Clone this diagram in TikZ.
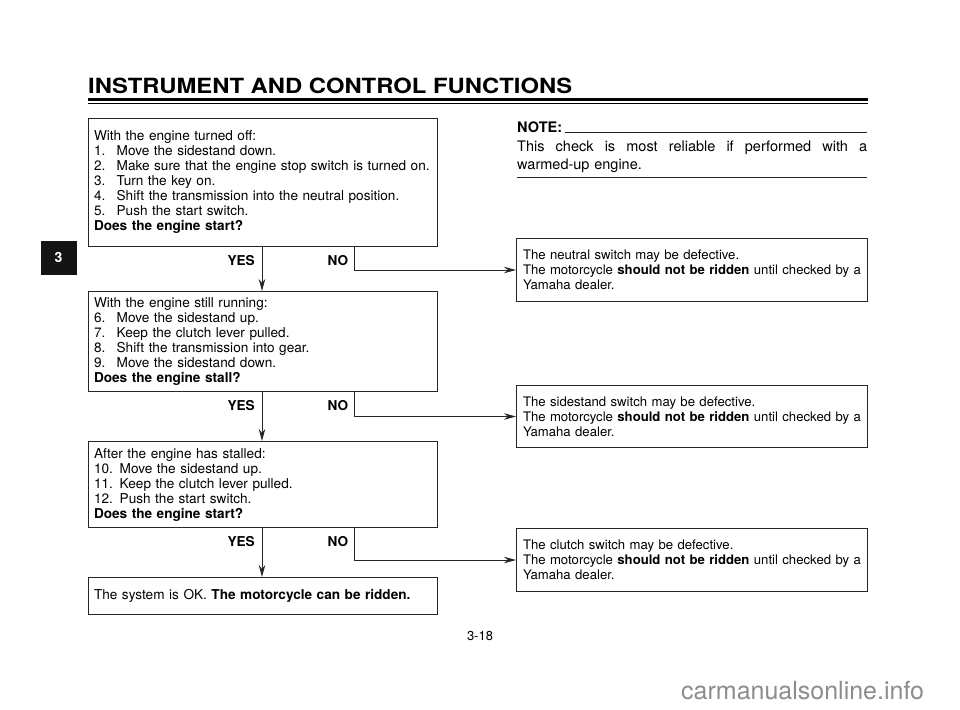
\documentclass[tikz,border=0pt]{standalone}
\usepackage{fontspec}
\setmainfont{TeX Gyre Heros}
\usetikzlibrary{arrows.meta}
\begin{document}
\begin{tikzpicture}[x=1pt,y=-1pt,
  box/.style={draw=black!85, line width=1pt, rectangle, inner xsep=5.5pt, inner ysep=0pt,
    align=left, anchor=north west, font=\fontsize{13.6}{15}\selectfont},
  lbox/.style={box, minimum width=349pt, text width=338pt},
  rbox/.style={box, minimum width=351pt, text width=338pt, inner xsep=6.5pt,
    font=\fontsize{13.15}{15}\selectfont},
  arr/.style={draw=black!85, line width=1pt, -{Stealth[length=12pt,width=6.5pt]}},
  lab/.style={font=\fontsize{13.6}{15}\selectfont\bfseries, inner sep=0pt}]
\useasboundingbox (0,0) rectangle (960,709);
% header
\node[anchor=south west, inner sep=0pt] (title) at (88,93.5)
  {\resizebox{484pt}{15.5pt}{\bfseries INSTRUMENT AND CONTROL FUNCTIONS}};
\draw[line width=2.5pt] (88,99.5) -- (868,99.5);
\draw[line width=1pt] (88,103) -- (868,103);
% tab
\node[rectangle, fill=black!92, draw=black!92, minimum width=35pt, minimum height=33pt, inner sep=0pt,
  font=\fontsize{14}{14}\selectfont\bfseries] (tab) at (58.5,257.5) {\textcolor{white}{3}};
% note
\node[anchor=base west, inner sep=0pt, font=\fontsize{14.5}{18}\selectfont\bfseries] (note) at (517,132) {NOTE:};
\draw[line width=0.9pt, black!85] ([xshift=3pt]note.base east) -- (867,132);
\node[anchor=north west, inner sep=0pt, text width=350pt, align=left,
  font=\fontsize{14.5}{18}\selectfont] (notetext) at (517,140.5)
  {\hbox to 350pt{This\hfil\ check\hfil\ is\hfil\ most\hfil\ reliable\hfil\ if\hfil\ performed\hfil\ with\hfil\ a}\\warmed-up engine.};
\draw[line width=0.9pt, black!85] (517,177) -- (867,177);
% left boxes
\node[lbox, minimum height=128pt] (b1) at (88,118) {With the engine turned off:\\
1.~ Move the sidestand down.\\
2.~ Make sure that the engine stop switch is turned on.\\
3.~ Turn the key on.\\
4.~ Shift the transmission into the neutral position.\\
5.~ Push the start switch.\\
\textbf{Does the engine start?}};
\node[lbox, minimum height=100pt] (b2) at (88,291) {With the engine still running:\\
6.~ Move the sidestand up.\\
7.~ Keep the clutch lever pulled.\\
8.~ Shift the transmission into gear.\\
9.~ Move the sidestand down.\\
\textbf{Does the engine stall?}};
\node[lbox, minimum height=86pt] (b3) at (88,441) {After the engine has stalled:\\
10. Move the sidestand up.\\
11. Keep the clutch lever pulled.\\
12. Push the start switch.\\
\textbf{Does the engine start?}};
\node[lbox, minimum height=37pt] (b4) at (88,577) {The system is OK. \textbf{The motorcycle can be ridden.}};
% right boxes
\node[rbox, minimum height=63pt] (r1) at (516,238) {The neutral switch may be defective.\\
\makebox[338pt][l]{The motorcycle \textbf{should not be ridden} until checked by a}\\
Yamaha dealer.};
\node[rbox, minimum height=62pt] (r2) at (516,385) {The sidestand switch may be defective.\\
\makebox[338pt][l]{The motorcycle \textbf{should not be ridden} until checked by a}\\
Yamaha dealer.};
\node[rbox, minimum height=63pt] (r3) at (516,528) {The clutch switch may be defective.\\
\makebox[338pt][l]{The motorcycle \textbf{should not be ridden} until checked by a}\\
Yamaha dealer.};
% connectors
\draw[arr] ([xshift=174pt]b1.south west) -- ([xshift=174pt]b2.north west);
\draw[arr] ([xshift=174pt]b2.south west) -- ([xshift=174pt]b3.north west);
\draw[arr] ([xshift=174pt]b3.south west) -- ([xshift=174pt]b4.north west);
\draw[arr] ([xshift=266pt]b1.south west) |- (r1.west);
\draw[arr] ([xshift=266pt]b2.south west) |- (r2.west);
\draw[arr] ([xshift=266pt]b3.south west) |- (r3.west);
% labels
\node[lab, anchor=east] (y1) at ([xshift=167pt,yshift=-14pt]b1.south west) {YES};
\node[lab] (n1) at ([xshift=250pt,yshift=-14pt]b1.south west) {NO};
\node[lab, anchor=east] (y2) at ([xshift=167pt,yshift=-14pt]b2.south west) {YES};
\node[lab] (n2) at ([xshift=250pt,yshift=-14pt]b2.south west) {NO};
\node[lab, anchor=east] (y3) at ([xshift=167pt,yshift=-14pt]b3.south west) {YES};
\node[lab] (n3) at ([xshift=250pt,yshift=-14pt]b3.south west) {NO};
% page number and watermark
\node[font=\fontsize{13}{13}\selectfont, inner sep=0pt] (page) at (480,636) {3-18};
\node[anchor=west, inner sep=0pt, text=black!45, font=\fontsize{25}{25}\selectfont] (wm) at (681,691) {carmanualsonline.info};
\end{tikzpicture}
\end{document}
